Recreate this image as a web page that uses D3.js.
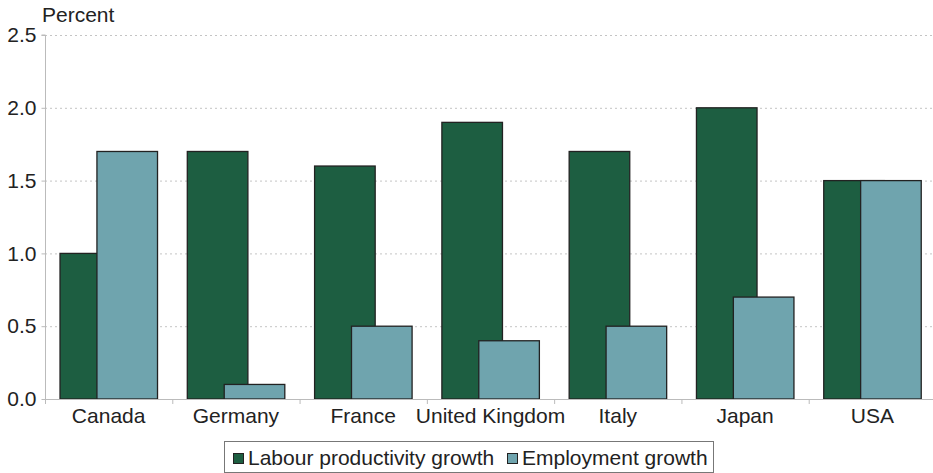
<!DOCTYPE html>
<html><head><meta charset="utf-8">
<script src="https://cdn.jsdelivr.net/npm/d3@7"></script>
<style>body{margin:0;background:#fff}svg{display:block;font-family:"Liberation Sans",Arial,sans-serif}</style>
</head><body><svg id="c" width="933" height="473"></svg>
<script>
const categories = ["Canada","Germany","France","United Kingdom","Italy","Japan","USA"];
const labourProductivity = [1.0,1.7,1.6,1.9,1.7,2.0,1.5];
const employment = [1.7,0.1,0.5,0.4,0.5,0.7,1.5];
const yTicks = [0,0.5,1.0,1.5,2.0,2.5];
const seriesNames = ["Labour productivity growth","Employment growth"];
const colors = ["#1d5e41","#6fa4ae"];

const FONT = "Liberation Sans, Arial, sans-serif";
const FS = 21;
const svg = d3.select("#c");
const mLeft = 45, mRight = 936, mTop = 35, mBottom = 399;
const x = d3.scaleBand().domain(categories).range([mLeft,mRight]).padding(0);
const y = d3.scaleLinear().domain([0,2.5]).range([mBottom,mTop]);
const bw = x.bandwidth();

// grid
svg.append("g").selectAll("line").data(yTicks.filter(d=>d>0)).join("line")
  .attr("x1",mLeft).attr("x2",933).attr("y1",d=>y(d)+0.5).attr("y2",d=>y(d)+0.5)
  .attr("stroke","#c4c4c4").attr("stroke-dasharray","2,3").attr("stroke-width",1);

// bars
const g = svg.append("g");
categories.forEach((c,i)=>{
  const x0 = x(c);
  g.append("rect").attr("x",x0+bw*0.118).attr("width",bw*0.476)
    .attr("y",y(labourProductivity[i])).attr("height",y(0)-y(labourProductivity[i]))
    .attr("fill",colors[0]).attr("stroke","#222").attr("stroke-width",1.3);
  g.append("rect").attr("x",x0+bw*0.408).attr("width",bw*0.476)
    .attr("y",y(employment[i])).attr("height",y(0)-y(employment[i]))
    .attr("fill",colors[1]).attr("stroke","#222").attr("stroke-width",1.3);
});

// y axis
const ya = svg.append("g").attr("transform",`translate(${mLeft+0.5},0)`)
  .call(d3.axisLeft(y).tickValues(yTicks).tickFormat(d3.format(".1f")).tickSize(4).tickPadding(5));
ya.select(".domain").attr("stroke","#bbb").attr("d",`M-4,${mTop}H0V${mBottom}`);
ya.selectAll(".tick line").attr("stroke","#bbb");
ya.selectAll("text").attr("font-size",FS).attr("fill","#222").attr("font-family",FONT);

// x axis
const xa = svg.append("g").attr("transform",`translate(0,${mBottom+0.5})`)
  .call(d3.axisBottom(x).tickSize(0).tickPadding(9));
xa.select(".domain").attr("stroke","#bbb").attr("d",`M${mLeft},0H${mRight}`);
xa.selectAll("text").attr("font-size",FS).attr("fill","#222").attr("font-family",FONT);
svg.append("g").selectAll("line").data(categories).join("line")
  .attr("x1",d=>x(d)+0.5).attr("x2",d=>x(d)+0.5).attr("y1",mBottom).attr("y2",mBottom+5)
  .attr("stroke","#bbb");

svg.append("text").attr("x",42).attr("y",22).attr("font-size",FS).attr("font-family",FONT).attr("fill","#222").text("Percent");

// legend
const lg = svg.append("g");
lg.append("rect").attr("x",224.5).attr("y",441.5).attr("width",489).attr("height",31)
  .attr("fill","#fff").attr("stroke","#777");
const lx = [233,507];
seriesNames.forEach((n,i)=>{
  lg.append("rect").attr("x",lx[i]+0.5).attr("y",453.5).attr("width",10).attr("height",10)
    .attr("fill",colors[i]).attr("stroke","#222").attr("stroke-width",1);
  lg.append("text").attr("x",lx[i]+15).attr("y",465).attr("font-size",FS).attr("font-family",FONT).attr("fill","#222").text(n);
});
</script></body></html>
